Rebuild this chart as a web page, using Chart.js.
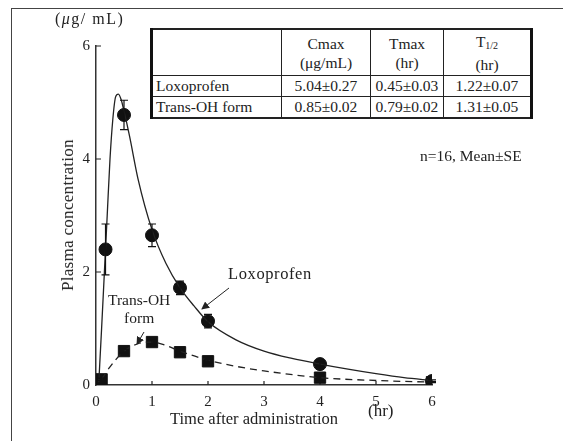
<!DOCTYPE html>
<html>
<head>
<meta charset="utf-8">
<script src="https://cdn.jsdelivr.net/npm/chart.js@4.4.0/dist/chart.umd.min.js"></script>
<style>
  body { margin: 0; background: #fff; }
  #wrap { position: relative; width: 563px; height: 441px; overflow: hidden; font-family: "Liberation Serif", "DejaVu Serif", serif; color: #222; }
  #frame { position: absolute; left: 11px; top: 8px; width: 560px; height: 440px; border-left: 1.5px solid #444; border-top: 1.5px solid #444; }
  canvas { position: absolute; left: 0; top: 0; }
  .txt { position: absolute; white-space: nowrap; }
  table { position: absolute; left: 150px; top: 28px; border-collapse: collapse; font-size: 15.5px; background: #fff; }
  table td { border: 1px solid #222; padding: 0 3px; text-align: center; line-height: 20px; }
  table tr.head td { line-height: 19px; padding-top: 2px; padding-bottom: 1px; }
  table td.name { text-align: left; width: 122px; }
  table { border-left: 3px solid #111; border-right: 3px solid #111; border-top: 2px solid #222; border-bottom: 2px solid #222; }
  sub { font-size: 10px; vertical-align: -2px; }
</style>
</head>
<body>
<div id="wrap">
  <div id="frame"></div>
  <canvas id="chart" width="563" height="441"></canvas>
  <table>
    <tr class="head"><td class="name"></td><td style="width:82px">Cmax<br>(μg/mL)</td><td style="width:66px">Tmax<br>(hr)</td><td style="width:80px">T<sub>1/2</sub><br>(hr)</td></tr>
    <tr><td class="name">Loxoprofen</td><td>5.04±0.27</td><td>0.45±0.03</td><td>1.22±0.07</td></tr>
    <tr><td class="name">Trans-OH form</td><td>0.85±0.02</td><td>0.79±0.02</td><td>1.31±0.05</td></tr>
  </table>
  <div class="txt" style="left:420px; top:147px; font-size:15.5px;">n=16, Mean±SE</div>
  <div class="txt" style="left:55px; top:10px; font-size:16px; letter-spacing:1.5px;">(<i>μ</i>g/ mL)</div>
  <div class="txt" style="left:68px; top:215px; font-size:17px; letter-spacing:0.3px; transform: translate(-50%,-50%) rotate(-90deg);">Plasma concentration</div>
  <div class="txt" style="left:170px; top:409px; font-size:16.5px;">Time after administration</div>
  <div class="txt" style="left:368px; top:401px; font-size:17px;">(hr)</div>
  <div class="txt" style="left:228px; top:264px; font-size:16.5px; letter-spacing:0.6px;">Loxoprofen</div>
  <div class="txt" style="left:108px; top:291px; font-size:15.5px; text-align:center; line-height:18px;">Trans-OH<br>form</div>
  <svg width="563" height="441" style="position:absolute;left:0;top:0" >
    <defs><marker id="ah" markerWidth="8" markerHeight="8" refX="7" refY="4" orient="auto"><path d="M0,0 L8,4 L0,8 z" fill="#222"/></marker></defs>
    <line x1="229" y1="288" x2="202" y2="309" stroke="#222" stroke-width="1" marker-end="url(#ah)"/>
    <line x1="144" y1="332" x2="137" y2="344" stroke="#222" stroke-width="1" marker-end="url(#ah)"/>
  </svg>
</div>
<script>
// observed points (mean) and SE
const loxoTime = [0.17, 0.5, 1, 1.5, 2, 4, 6];
const loxoConc = [2.4, 4.78, 2.65, 1.72, 1.13, 0.37, 0.07];
const loxoSE = [0.45, 0.26, 0.2, 0.12, 0.12, 0.03, 0.02];
const transTime = [0.1, 0.5, 1, 1.5, 2, 4, 6];
const transConc = [0.1, 0.6, 0.76, 0.58, 0.42, 0.13, 0.05];
const transSE = [0.02, 0.03, 0.03, 0.03, 0.03, 0.04, 0.01];

// fitted curves
const loxoFitTime = [0.05, 0.1, 0.15, 0.2, 0.25, 0.3, 0.35, 0.4, 0.45, 0.5, 0.6, 0.75, 1, 1.25, 1.5, 1.75, 2, 2.5, 3, 3.5, 4, 4.5, 5, 5.5, 6];
const loxoFitConc = [0.05, 1.0, 2.0, 3.0, 4.0, 4.7, 5.1, 5.15, 5.05, 4.85, 4.4, 3.65, 2.75, 2.15, 1.72, 1.4, 1.12, 0.8, 0.6, 0.47, 0.37, 0.28, 0.2, 0.13, 0.08];
const transFitTime = [0.1, 0.25, 0.5, 0.75, 1, 1.25, 1.5, 2, 2.5, 3, 4, 5, 6];
const transFitConc = [0.1, 0.32, 0.6, 0.73, 0.76, 0.7, 0.6, 0.44, 0.33, 0.25, 0.13, 0.08, 0.05];

const xTicks = [0, 1, 2, 3, 4, 5, 6];
const yTicks = [0, 2, 4, 6];

function pts(xs, ys) {
  return xs.map((t, i) => ({ x: t, y: ys[i] }));
}

const errorBars = {
  id: 'errorBars',
  beforeDatasetsDraw(chart) {
    const { ctx, scales: { x, y } } = chart;
    ctx.save();
    ctx.strokeStyle = '#222';
    ctx.lineWidth = 1.2;
    // inward ticks
    ctx.beginPath();
    yTicks.forEach(v => {
      if (v == 0) return;
      const py = y.getPixelForValue(v);
      ctx.moveTo(x.left, py);
      ctx.lineTo(x.left + 5, py);
    });
    xTicks.forEach(v => {
      if (v == 0) return;
      const px = x.getPixelForValue(v);
      ctx.moveTo(px, y.bottom);
      ctx.lineTo(px, y.bottom - 4);
    });
    ctx.stroke();
    ctx.restore();
  },
  afterDatasetsDraw(chart) {
    const { ctx, scales: { x, y } } = chart;
    ctx.save();
    ctx.strokeStyle = '#111';
    ctx.lineWidth = 1.2;
    const draw = (ts, cs, es) => {
      ts.forEach((t, i) => {
        const px = x.getPixelForValue(t);
        const top = y.getPixelForValue(cs[i] + es[i]);
        const bot = y.getPixelForValue(cs[i] - es[i]);
        ctx.beginPath();
        ctx.moveTo(px, top); ctx.lineTo(px, bot);
        ctx.moveTo(px - 4, top); ctx.lineTo(px + 4, top);
        ctx.moveTo(px - 4, bot); ctx.lineTo(px + 4, bot);
        ctx.stroke();
      });
    };
    draw(loxoTime, loxoConc, loxoSE);
    draw(transTime, transConc, transSE);
    ctx.restore();
  }
};

const serif = "'Liberation Serif', 'DejaVu Serif', serif";

new Chart(document.getElementById('chart'), {
  type: 'scatter',
  data: {
    datasets: [
      {
        type: 'line', data: pts(loxoFitTime, loxoFitConc), borderColor: '#222', borderWidth: 1.3,
        pointRadius: 0, cubicInterpolationMode: 'monotone', fill: false
      },
      {
        type: 'line', data: pts(transFitTime, transFitConc), borderColor: '#222', borderWidth: 1.3,
        borderDash: [7, 5], pointRadius: 0, cubicInterpolationMode: 'monotone', fill: false
      },
      {
        data: pts(transTime, transConc), pointStyle: 'rect', pointRadius: 8,
        backgroundColor: '#111', borderColor: '#111'
      },
      {
        data: pts(loxoTime, loxoConc), pointStyle: 'circle', pointRadius: 6.5,
        backgroundColor: '#111', borderColor: '#111'
      }
    ]
  },
  options: {
    responsive: false,
    animation: false,
    layout: { padding: { top: 46, right: 131, left: 0, bottom: 0 } },
    plugins: { legend: { display: false }, tooltip: { enabled: false } },
    scales: {
      x: {
        type: 'linear', min: 0, max: 6,
        afterFit: s => { s.height = 56; },
        afterBuildTicks: s => { s.ticks = xTicks.map(v => ({ value: v })); },
        grid: { display: false, drawTicks: false },
        border: { color: '#333', width: 1.5 },
        ticks: { padding: 8, color: '#222', font: { family: serif, size: 15 } }
      },
      y: {
        type: 'linear', min: 0, max: 6,
        afterFit: s => { s.width = 96; },
        afterBuildTicks: s => { s.ticks = yTicks.map(v => ({ value: v })); },
        grid: { display: false, drawTicks: false },
        border: { color: '#333', width: 1.5 },
        ticks: { padding: 6, color: '#222', font: { family: serif, size: 15 } }
      }
    }
  },
  plugins: [errorBars]
});
</script>
</body>
</html>
